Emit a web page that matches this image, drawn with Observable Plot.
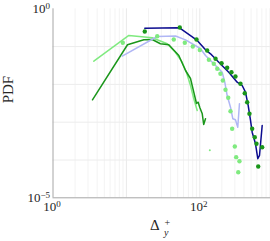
<!DOCTYPE html>
<html><head><meta charset="utf-8">
<script src="https://cdn.jsdelivr.net/npm/d3@7"></script>
<script src="https://cdn.jsdelivr.net/npm/@observablehq/plot@0.6"></script>
<style>html,body{margin:0;padding:0;background:#fff;overflow:hidden}</style>
</head><body><div id="chart"></div>
<script>
// Series (Δy+ , PDF)
const lgLineX = [3.60,10.8,22.5,36.0,46.7,57.5,65.9,74.7,82.8,92.2];
const lgLineY = [0.0411,0.197,0.171,0.1187,0.0698,0.0387,0.0206,0.00935,0.00416,0.00204];
const dgLineX = [3.45,10.35,17.3,22.5,29.1,37.8,51.8,63.9,74.7,82.8,90.2,95.1,100,108,113,119.6];
const dgLineY = [0.00391,0.112,0.151,0.154,0.1187,0.1116,0.0581,0.0233,0.01432,0.00622,0.00313,0.00338,0.00245,0.00167,0.000869,0.00123];
const lavX = [8.77,26.3,46.7,63.9,102,119.6,173,202,219,236,262,282,306,329,347];
const lavY = [0.0557,0.185,0.191,0.151,0.0891,0.0581,0.0285,0.0210,0.01143,0.00508,0.00249,0.00123,0.00116,0.000737,0.00307];
const navyX = [17.8,52.9,90.2,119.6,140,181.5,248,323,378,419,456,491,517,574,617,651,708];
const navyY = [0.307,0.314,0.151,0.0823,0.0645,0.0387,0.0210,0.01143,0.00935,0.00622,0.00277,0.00111,0.000544,0.000268,0.000108,0.000132,0.000818];
const dgDotX = [17.8,53.4,90.2,126,164,198,236,270,306,358,410,442,475,517,561,592,625,708];
const dgDotY = [0.251,0.320,0.154,0.0788,0.0475,0.0364,0.0275,0.0210,0.0162,0.01038,0.00585,0.00338,0.00167,0.000669,0.000401,0.000268,0.0000673,0.000218];
const lgDotX = [8.93,26.3,44.2,62.5,80.3,100,133,155,173,191,206,224,244,262,276,300,313,347,334];
const lgDotY = [0.126,0.188,0.154,0.126,0.1006,0.0813,0.0448,0.0351,0.0259,0.0191,0.01268,0.00720,0.00442,0.00195,0.000669,0.000228,0.000119,0.0000929,0.0000475];
const lgSmallDotX = [137];
const lgSmallDotY = [0.000182];

// Ticks and grid
const xTicks = [1, 100];
const xTickLabels = ["10^0", "10^2"];
const yTicks = [1, 1e-5];
const yTickLabels = ["10^0", "10^−5"];
const xGridMajor = [10, 100];
const xGridMinor = [2,3,4,5,6,7,8,9,20,30,40,50,60,70,80,90,200,300,400,500,600,700,800,900];
const yGrid = [1e-1, 1e-2, 1e-3, 1e-4];

const pts = (xs, ys) => xs.map((x, i) => ({x, y: ys[i]}));
const font = "Liberation Serif";

const chart = Plot.plot({
  width: 270, height: 241,
  marginLeft: 52.5, marginRight: 0, marginTop: 8.3, marginBottom: 43.7,
  style: {fontFamily: font, background: "#fff", overflow: "visible"},
  x: {type: "log", domain: [1, 919], axis: null},
  y: {type: "log", domain: [1e-5, 1], axis: null},
  marks: [
    Plot.ruleX(xGridMinor, {stroke: "#f3f3f3", strokeWidth: 1}),
    Plot.ruleX(xGridMajor, {stroke: "#e9e9e9", strokeWidth: 1}),
    Plot.ruleY(yGrid, {stroke: "#ececec", strokeWidth: 1}),
    Plot.ruleY([1e-5], {stroke: "#a6a6a6", strokeWidth: 1}),
    Plot.ruleX([1], {stroke: "#a6a6a6", strokeWidth: 1}),
    Plot.line(pts(lgLineX, lgLineY), {x: "x", y: "y", stroke: "#7fea7f", strokeWidth: 1.5}),
    Plot.line(pts(dgLineX, dgLineY), {x: "x", y: "y", stroke: "#1a961a", strokeWidth: 1.5}),
    Plot.line(pts(lavX, lavY), {x: "x", y: "y", stroke: "#b0b6f5", strokeWidth: 1.5}),
    Plot.line(pts(navyX, navyY), {x: "x", y: "y", stroke: "#0b0b8f", strokeWidth: 1.5}),
    Plot.dot(pts(lgDotX, lgDotY), {x: "x", y: "y", r: 2.2, fill: "#7fea7f", stroke: "none"}),
    Plot.dot(pts(lgSmallDotX, lgSmallDotY), {x: "x", y: "y", r: 1, fill: "#7fea7f", stroke: "none"}),
    Plot.dot(pts(dgDotX, dgDotY), {x: "x", y: "y", r: 2.2, fill: "#1a961a", stroke: "none"}),
    Plot.text(xTicks, {x: d => d, frameAnchor: "bottom", dy: 13, dx: -1, text: (d, i) => xTickLabels[i], fontSize: 13, fill: "#262626"}),
    Plot.text(yTicks, {y: d => d, frameAnchor: "left", textAnchor: "end", dx: -3, text: (d, i) => yTickLabels[i], fontSize: 13, fill: "#262626"}),
    Plot.text(["PDF"], {frameAnchor: "left", rotate: -90, dx: -45, text: d => d, fontSize: 15, fill: "#262626"}),
    Plot.text(["Δ"], {frameAnchor: "bottom", dx: -7, dy: 32, text: d => d, fontSize: 15, fill: "#262626"}),
    Plot.text(["+"], {frameAnchor: "bottom", dx: 5.5, dy: 28, text: d => d, fontSize: 10, fill: "#262626"}),
    Plot.text(["y"], {frameAnchor: "bottom", dx: 4.5, dy: 38, text: d => d, fontSize: 10, fontStyle: "italic", fill: "#262626"})
  ]
});

// Render "10^e" as base with raised exponent
d3.select(chart).selectAll("text").each(function() {
  const t = this.textContent;
  const m = t.match(/^(.*?)\^(.+)$/);
  if (!m) return;
  const el = d3.select(this);
  el.text(null);
  el.append("tspan").text(m[1]);
  el.append("tspan").attr("dy", "-0.45em").attr("font-size", "9").text(m[2]);
});

document.getElementById("chart").appendChild(chart);
</script>
</body></html>
